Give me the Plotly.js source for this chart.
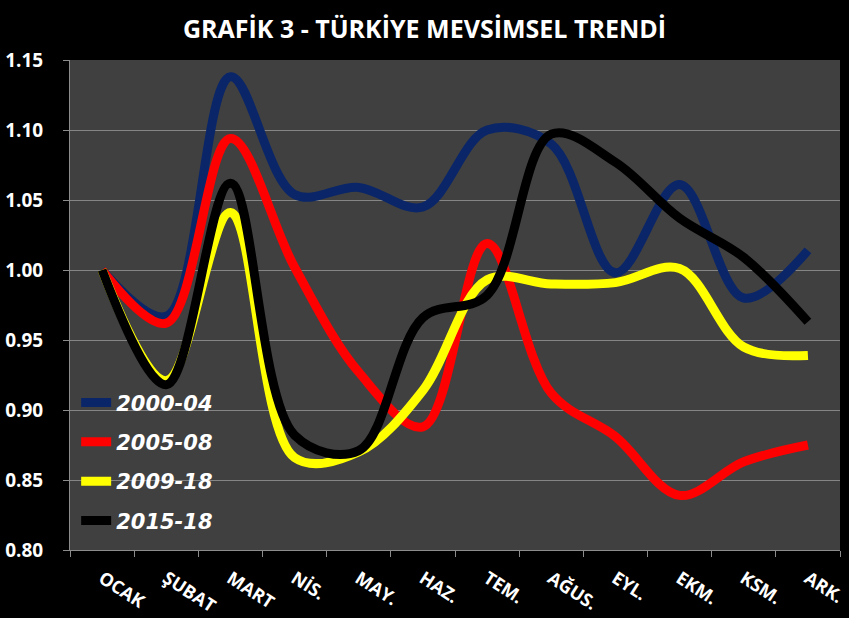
<!DOCTYPE html>
<html>
<head>
<meta charset="utf-8">
<script src="https://cdn.plot.ly/plotly-3.0.1.min.js"></script>
<style>html,body{margin:0;padding:0;background:#000;}#chart{width:849px;height:618px;}</style>
</head>
<body>
<div id="chart"></div>
<script>
var months = ["OCAK","ŞUBAT","MART","NİS.","MAY.","HAZ.","TEM.","AĞUS.","EYL.","EKM.","KSM.","ARK."];
var seriesNames = ["2000-04","2005-08","2009-18","2015-18"];
var s2000_04 = [1.000,0.967,1.138,1.054,1.059,1.045,1.100,1.090,0.998,1.061,0.980,1.014];
var s2005_08 = [1.000,0.962,1.094,1.002,0.927,0.888,1.019,0.912,0.881,0.839,0.863,0.875];
var s2009_18 = [1.000,0.921,1.041,0.866,0.870,0.914,0.993,0.990,0.991,1.001,0.945,0.939];
var s2015_18 = [1.000,0.918,1.062,0.882,0.871,0.966,0.982,1.097,1.077,1.037,1.009,0.963];
var yTicks = [0.80,0.85,0.90,0.95,1.00,1.05,1.10,1.15];
var colors = ["#0a2668","#ff0000","#ffff00","#000000"];
var allSeries = [s2000_04,s2005_08,s2009_18,s2015_18];

var traces = allSeries.map(function(vals,i){
  return {
    type:"scatter", mode:"lines", x:months, y:vals, name:seriesNames[i],
    legendgroup:"g"+i,
    line:{color:colors[i], width:9, shape:"spline", smoothing:1}
  };
});

var layout = {
  width:849, height:618,
  paper_bgcolor:"#000000", plot_bgcolor:"#404040",
  margin:{l:70,r:9,t:60,b:68},
  title:{text:"GRAFİK 3 - TÜRKİYE MEVSİMSEL TRENDİ", x:0.5, xanchor:"center", y:0.952, yanchor:"middle",
    font:{family:"Open Sans", size:25, color:"#ffffff", weight:"bold"}},
  showlegend:true,
  legend:{x:0.008, y:0.342, xanchor:"left", yanchor:"top", bgcolor:"rgba(0,0,0,0)",
    traceorder:"grouped", tracegroupgap:9,
    font:{family:"DejaVu Sans", size:21, color:"#ffffff", weight:"bold", style:"italic"}},
  xaxis:{type:"category", range:[-0.5,11.5], showgrid:false, zeroline:false, showline:true, linecolor:"#8c8c8c", linewidth:1,
    ticks:"outside", tickson:"boundaries", ticklen:6, tickcolor:"#8c8c8c", tickangle:33,
    tickfont:{family:"Open Sans", size:18, color:"#ffffff", weight:"bold"}, ticklabelstandoff:10},
  yaxis:{range:[0.8,1.15], tickvals:yTicks, ticktext:yTicks.map(function(v){return v.toFixed(2);}),
    showgrid:true, gridcolor:"#858585", gridwidth:1, zeroline:false, showline:true, linecolor:"#8c8c8c",
    ticks:"outside", ticklen:6, tickcolor:"#8c8c8c", ticklabelstandoff:16,
    tickfont:{family:"Open Sans", size:19, color:"#ffffff", weight:"bold"}}
};

Plotly.newPlot("chart", traces, layout, {displayModeBar:false, staticPlot:true});
</script>
</body>
</html>
